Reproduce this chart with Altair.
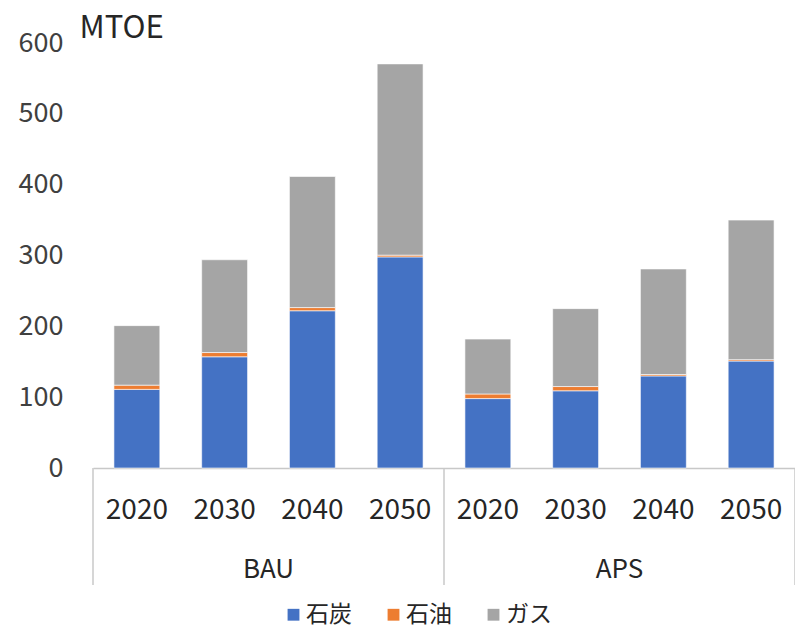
import altair as alt
import pandas as pd

scenarios = ["BAU", "BAU", "BAU", "BAU", "APS", "APS", "APS", "APS"]
years = ["2020", "2030", "2040", "2050", "2020", "2030", "2040", "2050"]
fuels = ["石炭", "石油", "ガス"]
coal = [111, 157, 222, 298, 98, 109, 130, 151]
oil = [6, 6, 4.5, 2.5, 6.5, 6, 2, 2]
gas = [84, 131, 185, 270, 77.5, 110, 149, 197]
colors = ["#4472C4", "#ED7D31", "#A5A5A5"]
y_ticks = [0, 100, 200, 300, 400, 500, 600]
group_names = ["BAU", "APS"]

keys = [f"{s}-{y}" for s, y in zip(scenarios, years)]
rows = []
for i, k in enumerate(keys):
    for j, (f, vals) in enumerate(zip(fuels, [coal, oil, gas])):
        rows.append({"key": k, "scenario": scenarios[i], "year": years[i],
                     "fuel": f, "order": j, "value": vals[i]})
df = pd.DataFrame(rows)

W, H = 702, 425
STEP = W / 8
P_IN, P_OUT = 0.477, 0.2385
PAD = P_OUT * STEP
FONT = "Noto Sans CJK JP"
TXT = "#262626"
LINE = "#c8c8c8"

xscale = alt.Scale(domain=keys, paddingInner=P_IN, paddingOuter=P_OUT)

bars = alt.Chart(df).mark_bar(stroke="white", strokeWidth=0.6).encode(
    x=alt.X("key:N", sort=keys, scale=xscale,
            axis=alt.Axis(title=None, labelExpr="split(datum.label, '-')[1]",
                          labelAngle=0, labelFontSize=28, labelFont=FONT,
                          labelColor=TXT, labelPadding=28, ticks=False,
                          domainColor=LINE, domainWidth=1.5, labelBaseline="top")),
    y=alt.Y("value:Q", stack="zero", scale=alt.Scale(domain=[0, 600], nice=False),
            axis=alt.Axis(values=y_ticks, title="MTOE", titleAngle=0,
                          titleAlign="left", titleBaseline="alphabetic",
                          titleX=-14, titleY=-6, titleFontSize=31,
                          titleFont=FONT, titleFontWeight="normal", titleColor=TXT,
                          labelFontSize=27, labelFont=FONT, labelColor="#404040",
                          labelPadding=30, domain=False, ticks=False, grid=False)),
    color=alt.Color("fuel:N", scale=alt.Scale(domain=fuels, range=colors),
                    sort=fuels,
                    legend=alt.Legend(title=None, orient="none", direction="horizontal",
                                      legendX=189, legendY=560, symbolType="square",
                                      symbolSize=140, symbolStrokeWidth=0,
                                      labelFontSize=23, labelFont=FONT, labelColor=TXT,
                                      labelOffset=1, columnPadding=30)),
    order=alt.Order("order:Q"),
)

# xOffset makes x refer to the band start
grp_df = pd.DataFrame({"name": group_names, "key": ["BAU-2020", "APS-2020"]})
grp = alt.Chart(grp_df).mark_text(fontSize=26, font=FONT, color=TXT, baseline="middle").encode(
    x=alt.X("key:N", sort=keys, scale=xscale),
    xOffset=alt.value(float(2 * STEP - PAD)),
    y=alt.value(H + 102),
    text="name:N",
)

sep_keys = ["BAU-2020", "APS-2020", "APS-2050"]
sep_offs = [float(-PAD), float(-PAD), float(STEP - PAD)]
seps = []
for k, off in zip(sep_keys, sep_offs):
    seps.append(alt.Chart(pd.DataFrame({"key": [k]})).mark_rule(color=LINE, strokeWidth=1.5).encode(
        x=alt.X("key:N", sort=keys, scale=xscale),
        xOffset=alt.value(off),
        y=alt.value(H),
        y2=alt.value(H + 117),
    ))

chart = alt.layer(bars, grp, *seps).properties(
    width=W, height=H,
    autosize=alt.AutoSizeParams(type="none"),
    padding={"left": 93, "top": 43, "right": 0, "bottom": 161},
).configure(font=FONT).configure_view(strokeWidth=0, stroke="transparent")

chart.save("out.html", embed_options={"renderer": "svg", "actions": False})
